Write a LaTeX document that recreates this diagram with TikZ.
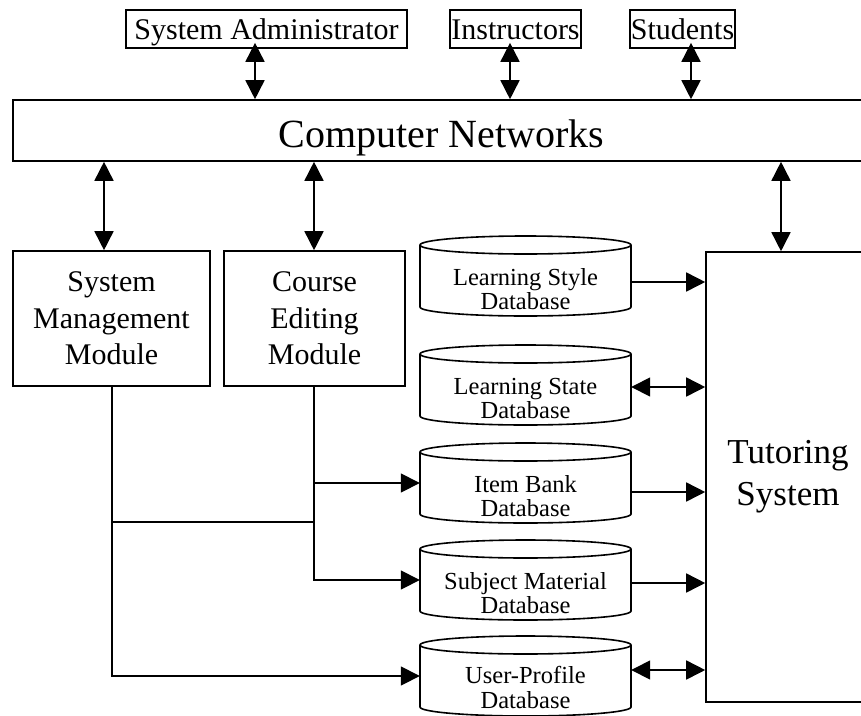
\documentclass[tikz,border=0pt]{standalone}
\usepackage{fontspec}
\setmainfont{Liberation Serif}
\usetikzlibrary{arrows.meta,calc}
\newcommand\dbcyl[5]{% name, top y, text, text name, text baseline offset
  \draw[line] (525.5,#2+9) ellipse (105.5 and 9);
  \draw[line] (420,#2+9) -- (420,#2+71) arc (180:0:105.5 and 9) -- (631,#2+9);
  \node[minimum width=211pt, minimum height=80pt, inner sep=0pt] (#1) at (525.5,#2+40) {};
  \node[dbtext, anchor=base] (#4) at (525.5,#2+#5) {#3};
}
\begin{document}
\begin{tikzpicture}[x=1pt,y=-1pt,
  line/.style={line width=1.6pt},
  box/.style={draw, line width=1.6pt, inner sep=0pt, align=center},
  topbox/.style={box, text height=29pt, text depth=9pt, font=\fontsize{30}{36}\selectfont},
  modbox/.style={box, minimum height=135pt, font=\fontsize{30}{36.5}\selectfont},
  arr/.style={line width=1.6pt, -{Triangle[length=19pt,width=19pt]}},
  darr/.style={line width=1.6pt, {Triangle[length=19pt,width=19pt]}-{Triangle[length=19pt,width=19pt]}},
  dbtext/.style={align=center, inner sep=0pt, font=\fontsize{24.5}{24.5}\selectfont},
]
\useasboundingbox (0,0) rectangle (861,715);
\clip (0,0) rectangle (861,715);

% top actors
\node[topbox, minimum width=281pt] (sa) at (266.5,29) {System Administrator};
\node[topbox, minimum width=131pt] (ins) at (515.5,29) {Instructors};
\node[topbox, minimum width=105pt] (stu) at (682.5,29) {Students};

% network bar
\node[box, minimum width=857pt, text height=47pt, text depth=14pt, font=\fontsize{40}{44}\selectfont] (cn) at (441.5,130.5) {Computer Networks};

% modules
\node[modbox, minimum width=197pt] (smm) at (111.5,318.5) {System\\Management\\Module};
\node[modbox, minimum width=181pt] (cem) at (314.5,318.5) {Course\\Editing\\Module};

% tutoring system
\node[box, minimum width=164pt, minimum height=450pt, font=\fontsize{35}{42}\selectfont] (ts) at (788,477) {Tutoring\\System};

% databases
\dbcyl{ls}{236}{Learning Style\\Database}{lst}{73.5}
\dbcyl{lsta}{345}{Learning State\\Database}{lstat}{73.5}
\dbcyl{ib}{443}{Item Bank\\Database}{ibt}{73.5}
\dbcyl{sm}{540}{Subject Material\\Database}{smt}{73.5}
\dbcyl{up}{636}{User-Profile\\Database}{upt}{72}

% helper coordinates
\coordinate (xa) at (255,0);
\coordinate (xb) at (510,0);
\coordinate (xc) at (691,0);
\coordinate (xd) at (104,0);
\coordinate (xe) at (314,0);
\coordinate (xf) at (781,0);
\coordinate (xg) at (112,0);
\coordinate (hy) at (0,522);
\coordinate (r1) at (0,282);
\coordinate (r2) at (0,387);
\coordinate (r3) at (0,492);
\coordinate (r4) at (0,583);
\coordinate (r5) at (0,670);

% actor <-> network
\draw[darr, shorten <=-6pt] (sa.south -| xa) -- (cn.north -| xa);
\draw[darr, shorten <=-6pt] (ins.south -| xb) -- (cn.north -| xb);
\draw[darr, shorten <=-6pt] (stu.south -| xc) -- (cn.north -| xc);

% network <-> modules
\draw[darr] (cn.south -| xd) -- (smm.north -| xd);
\draw[darr] (cn.south -| xe) -- (cem.north -| xe);
\draw[darr] (cn.south -| xf) -- (ts.north -| xf);

% module feeds
\draw[arr] (smm.south -| xg) |- (up.west);
\draw[line] (xg |- hy) -- (xe |- hy);
\draw[arr] (cem.south -| xe) |- (sm.west);
\draw[arr] (xe |- ib.west) -- (ib.west);

% databases -> tutoring system
\draw[arr] (ls.east |- r1) -- (ts.west |- r1);
\draw[darr] (lsta.east |- r2) -- (ts.west |- r2);
\draw[arr] (ib.east |- r3) -- (ts.west |- r3);
\draw[arr] (sm.east |- r4) -- (ts.west |- r4);
\draw[darr] (up.east |- r5) -- (ts.west |- r5);
\end{tikzpicture}
\end{document}
